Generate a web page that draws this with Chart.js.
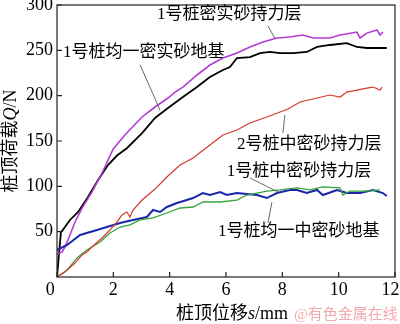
<!DOCTYPE html>
<html>
<head>
<meta charset="utf-8">
<script src="https://cdn.jsdelivr.net/npm/chart.js@4"></script>
<style>
  html, body { margin: 0; padding: 0; background: #fff; }
  canvas { display: block; }
</style>
</head>
<body>
<canvas id="myChart" width="400" height="324"></canvas>
<script>
// tick labels
const xTicks = [0, 2, 4, 6, 8, 10, 12];
const yTicks = [50, 100, 150, 200, 250, 300];

// 1号桩密实砂持力层 (magenta)
const magentaX = [0, 0.18, 0.28, 0.39, 0.64, 0.89, 1.24, 1.6, 1.99, 2.41, 3.02, 3.48, 3.94, 4.19, 4.47, 4.97, 5.43, 5.89, 6.39, 6.85, 7.31, 7.81, 8.27, 8.73, 9.09, 9.69, 10.05, 10.65, 10.76, 11.0, 11.36, 11.47, 11.57];
const magentaY = [25, 27.6, 33, 40.8, 60.7, 76, 93.7, 114.7, 141, 156.6, 176.5, 187.5, 197.4, 204, 209.5, 222.8, 233.8, 241.5, 247, 253.7, 259.2, 263.6, 264.7, 266.9, 263.6, 263.6, 266.9, 270.2, 263.6, 269, 272.4, 266.9, 270.2];

// 1号桩均一密实砂地基 (black)
const blackX = [0, 0.14, 0.18, 0.46, 0.75, 1.1, 1.46, 1.81, 2.13, 2.48, 3.02, 3.48, 3.94, 4.47, 4.97, 5.43, 5.89, 6.14, 6.39, 6.85, 7.21, 7.56, 7.92, 8.38, 8.87, 9.23, 9.69, 10.29, 10.65, 11.0, 11.71];
const blackY = [0, 49.6, 50.7, 62.9, 71.7, 88.2, 107, 123.5, 134, 142, 158.8, 175.4, 186.4, 198.5, 209.5, 220.6, 228.3, 231.6, 241.5, 242.6, 247, 248.2, 247, 247, 248.2, 253.7, 255.9, 258, 253.7, 252.6, 252.6];

// 2号桩中密砂持力层 (red)
const redX = [0, 0.28, 0.64, 0.89, 1.06, 1.24, 1.6, 1.88, 2.13, 2.31, 2.48, 2.59, 2.7, 3.02, 3.48, 3.9, 4.37, 4.83, 5.43, 5.89, 6.39, 6.85, 7.45, 8.2, 8.63, 9.23, 9.69, 10.05, 10.29, 10.65, 11.0, 11.22, 11.47, 11.54];
const redY = [0, 5.5, 15.4, 24.3, 27.6, 33.1, 43, 51.8, 60.7, 68.4, 71.7, 66.2, 73.9, 84.9, 97, 110.3, 123.5, 131.2, 145.6, 156.6, 162.1, 169.8, 176.5, 185.3, 193, 197.4, 200.7, 198.5, 204, 206.2, 208.4, 209.5, 206.2, 209.5];

// 1号桩中密砂持力层 (green)
const greenX = [0, 0.36, 0.71, 1.06, 1.53, 1.88, 2.24, 2.59, 2.95, 3.41, 3.9, 4.37, 4.83, 5.18, 5.79, 6.39, 6.74, 7.1, 7.45, 7.92, 8.52, 8.98, 9.44, 10.05, 10.15, 10.4, 11.0, 11.47];
const greenY = [0, 7.7, 21, 29.8, 38.6, 48.5, 55.1, 57.4, 62.9, 65.1, 70.6, 76.1, 77.2, 82.7, 82.7, 84.9, 90.4, 92.6, 94.8, 96, 98.2, 96, 99.3, 98.2, 90.4, 94.8, 94.8, 96];

// 1号桩均一中密砂地基 (blue)
const blueX = [0, 0.36, 0.82, 1.42, 1.77, 2.24, 2.7, 3.19, 3.41, 3.66, 3.9, 4.26, 4.61, 4.83, 5.18, 5.43, 5.79, 6.03, 6.39, 7.1, 7.45, 7.81, 8.27, 8.52, 8.87, 9.23, 9.44, 9.94, 10.29, 10.76, 11.22, 11.57, 11.71];
const blueY = [29.8, 35.3, 46.3, 51.8, 55.1, 59.6, 62.9, 66.2, 73.9, 71.7, 77.2, 81.6, 84.9, 87.1, 92.6, 90.4, 93.7, 90.4, 92.6, 90.4, 87.1, 92.6, 96, 96, 92.6, 96, 90.4, 96, 92.6, 92.6, 96, 92.6, 89.3];

// annotations: text, left x, middle y, leader line from/to (data units)
const noteText = ["1号桩密实砂持力层", "1号桩均一密实砂地基", "2号桩中密砂持力层", "1号桩中密砂持力层", "1号桩均一中密砂地基"];
const noteX = [3.55, 0.21, 6.39, 6.03, 5.72];
const noteY = [289, 248, 145.6, 115.8, 49.6];
const leaderFrom = [[7.49, 277], [2.95, 234], [8.09, 178.7], [6.85, 109.2], [7.63, 82.7]];
const leaderTo = [[7.74, 263], [3.66, 184], [8.02, 158.8], [7.85, 93.7], [7.49, 59.6]];

const SERIF = "'Liberation Serif', 'Noto Sans CJK SC', serif";

function pts(xs, ys) {
  return xs.map((x, i) => ({ x: x, y: ys[i] }));
}

function series(xs, ys, color, width) {
  return {
    data: pts(xs, ys),
    borderColor: color,
    borderWidth: width,
    pointRadius: 0,
    tension: 0,
    fill: false,
  };
}

function drawRich(ctx, parts, x, y) {
  let w = 0;
  parts.forEach((p) => {
    ctx.font = p.font;
    w += ctx.measureText(p.t).width;
  });
  let cx = x - w / 2;
  parts.forEach((p) => {
    ctx.font = p.font;
    ctx.fillText(p.t, cx, y);
    cx += ctx.measureText(p.t).width;
  });
}

const decorPlugin = {
  id: "decor",
  afterDraw(chart) {
    const ctx = chart.ctx;
    const a = chart.chartArea;
    const xs = chart.scales.x;
    const ys = chart.scales.y;
    ctx.save();
    // frame
    ctx.strokeStyle = "#222";
    ctx.lineWidth = 1.2;
    ctx.strokeRect(a.left, a.top, a.right - a.left, a.bottom - a.top);
    // inward ticks
    ctx.beginPath();
    xTicks.forEach((v) => {
      const px = xs.getPixelForValue(v);
      ctx.moveTo(px, a.bottom);
      ctx.lineTo(px, a.bottom - 5);
    });
    yTicks.forEach((v) => {
      const py = ys.getPixelForValue(v);
      ctx.moveTo(a.left, py);
      ctx.lineTo(a.left + 5, py);
    });
    ctx.stroke();

    // leader lines
    ctx.strokeStyle = "#444";
    ctx.lineWidth = 0.8;
    ctx.beginPath();
    leaderFrom.forEach((f, i) => {
      const t = leaderTo[i];
      ctx.moveTo(xs.getPixelForValue(f[0]), ys.getPixelForValue(f[1]));
      ctx.lineTo(xs.getPixelForValue(t[0]), ys.getPixelForValue(t[1]));
    });
    ctx.stroke();

    // annotation text
    ctx.fillStyle = "#000";
    ctx.textBaseline = "middle";
    ctx.textAlign = "left";
    ctx.font = "17px " + SERIF;
    noteText.forEach((t, i) => {
      ctx.fillText(t, xs.getPixelForValue(noteX[i]), ys.getPixelForValue(noteY[i]));
    });

    // x title
    drawRich(ctx, [
      { t: "桩顶位移", font: "18px " + SERIF },
      { t: "s", font: "italic 18px " + SERIF },
      { t: "/mm", font: "18px " + SERIF },
    ], 232, 314);

    // y title
    ctx.save();
    ctx.translate(11, (a.top + a.bottom) / 2);
    ctx.rotate(-Math.PI / 2);
    drawRich(ctx, [
      { t: "桩顶荷载", font: "18px " + SERIF },
      { t: "Q", font: "italic 18px " + SERIF },
      { t: "/N", font: "18px " + SERIF },
    ], 0, 0);
    ctx.restore();

    // watermark
    ctx.fillStyle = "rgba(236,140,145,0.75)";
    ctx.font = "15px " + SERIF;
    ctx.textAlign = "left";
    ctx.fillText("@有色金属在线", 294, 315);
    ctx.restore();
  },
};

const ctx = document.getElementById("myChart").getContext("2d");
new Chart(ctx, {
  type: "line",
  data: {
    datasets: [
      series(redX, redY, "#d2392b", 1.2),
      series(greenX, greenY, "#33a53a", 1.3),
      series(blueX, blueY, "#1a27a8", 2),
      series(magentaX, magentaY, "#b43ad4", 1.6),
      series(blackX, blackY, "#000000", 1.8),
    ],
  },
  options: {
    responsive: false,
    animation: false,
    devicePixelRatio: 1,
    layout: { padding: { top: 5, right: 5, left: 0, bottom: 0 } },
    plugins: { legend: { display: false }, tooltip: { enabled: false } },
    scales: {
      x: {
        type: "linear",
        min: 0,
        max: 12,
        grid: { display: false, drawTicks: false },
        border: { display: false },
        ticks: {
          stepSize: 2,
          padding: 2,
          color: "#000",
          maxRotation: 0,
          font: { family: SERIF, size: 18 },
          // first and last labels sit a little to the left, as in the original
          callback: (v) => (v === 0 ? "0\u2002 " : v === 12 ? "12\u2002" : v),
        },
        afterFit(scale) {
          scale.height = 47;
          scale.paddingLeft = 0;
          scale.paddingRight = 0;
        },
      },
      y: {
        min: 0,
        max: 300,
        grid: { display: false, drawTicks: false },
        border: { display: false },
        ticks: {
          stepSize: 50,
          padding: 4,
          color: "#000",
          font: { family: SERIF, size: 18 },
          callback: (v) => (v === 0 ? "" : v),
        },
        afterFit(scale) {
          scale.width = 57;
          scale.paddingTop = 0;
          scale.paddingBottom = 0;
        },
      },
    },
  },
  plugins: [decorPlugin],
});
</script>
</body>
</html>
